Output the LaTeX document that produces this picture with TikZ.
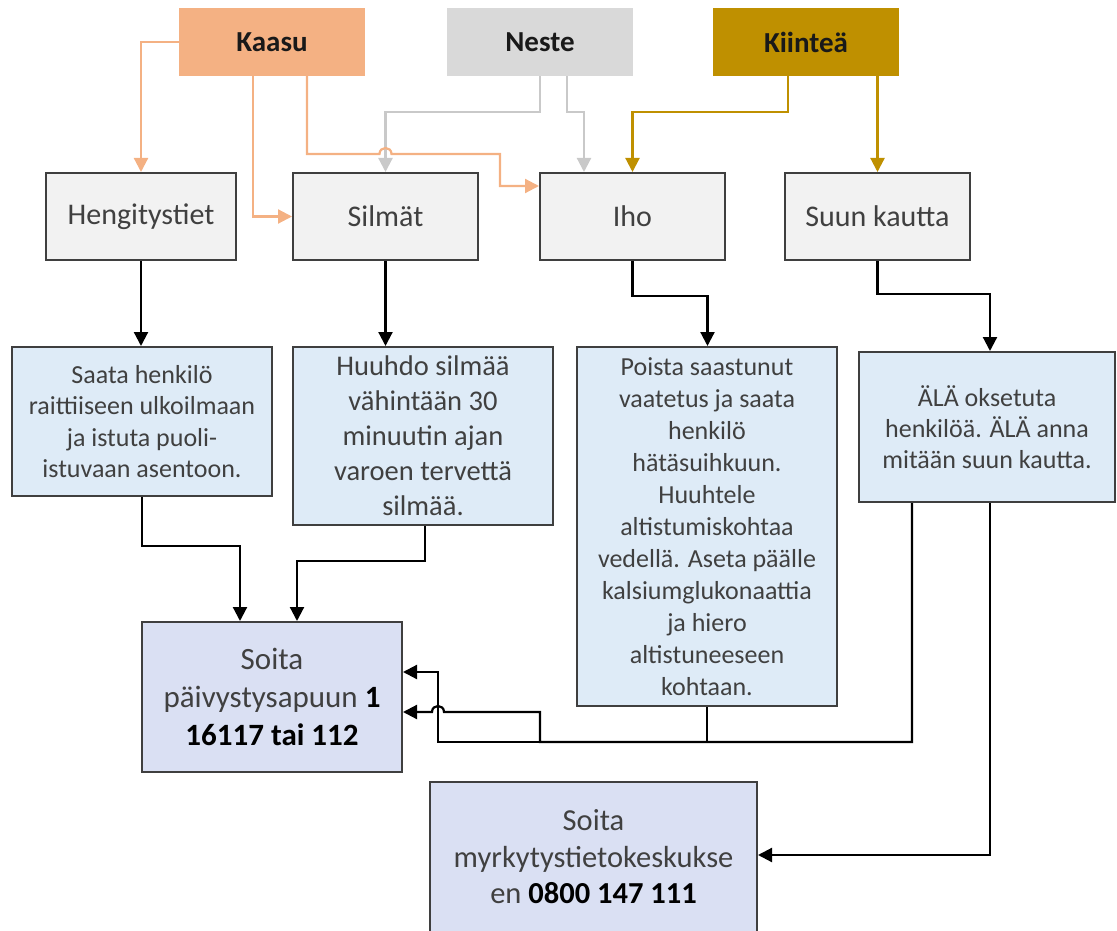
\documentclass[tikz,border=0pt]{standalone}
\usepackage{fontspec}
\setmainfont{Carlito}
\usetikzlibrary{arrows.meta}
\definecolor{kaasuc}{HTML}{F4B183}
\definecolor{nestec}{HTML}{D9D9D9}
\definecolor{nesteline}{HTML}{C9C9C9}
\definecolor{kiinteac}{HTML}{BF9000}
\definecolor{rowtwo}{HTML}{F2F2F2}
\definecolor{rowthree}{HTML}{DEEBF7}
\definecolor{callc}{HTML}{DAE0F3}
\definecolor{edgec}{HTML}{3F3F3F}
\definecolor{txtc}{HTML}{404040}
\tikzset{
  topbox/.style={minimum width=186pt, minimum height=68pt, inner sep=0pt, font=\fontsize{29}{34}\selectfont\bfseries, text=black!90},
  midbox/.style={draw=edgec, line width=2pt, fill=rowtwo, minimum width=185pt, minimum height=87pt, inner sep=0pt, text=txtc, font=\fontsize{30}{36}\selectfont},
  infobox/.style={draw=edgec, line width=2pt, fill=rowthree, inner sep=0pt, text=txtc, align=center},
  callbox/.style={draw=edgec, line width=2pt, fill=callc, inner sep=0pt, text=txtc, align=center},
  conn/.style={line width=2.2pt, -{Triangle[length=14pt,width=14pt]}},
  oarr/.style={conn, draw=kaasuc, color=kaasuc},
  garr/.style={conn, draw=nesteline, color=nesteline},
  karr/.style={conn, draw=kiinteac, color=kiinteac},
  barr/.style={conn, draw=black, color=black},
}
\begin{document}
\begin{tikzpicture}[x=1pt,y=-1pt]
\useasboundingbox (0,0) rectangle (1117,931);
% top row
\node[topbox, fill=kaasuc] (kaasu) at (272,42) {Kaasu};
\node[topbox, fill=nestec] (neste) at (540,42) {Neste};
\node[topbox, fill=kiinteac] (kiintea) at (806,42) {Kiinteä};
% second row
\node[midbox, minimum width=190pt] (hengi) at (141,216.5) {Hengitystiet};
\node[midbox] (silmat) at (385.5,216.5) {Silmät};
\node[midbox] (iho) at (632.5,216.5) {Iho};
\node[midbox] (suun) at (877.5,216.5) {Suun kautta};
% third row
\node[infobox, minimum width=260pt, minimum height=149pt, font=\fontsize{26}{31.5}\selectfont] (b1) at (142,421.5)
  {Saata henkilö\\raittiiseen ulkoilmaan\\ja istuta puoli-\\istuvaan asentoon.};
\node[infobox, minimum width=260pt, minimum height=178pt, font=\fontsize{28.5}{35}\selectfont] (b2) at (423,436)
  {Huuhdo silmää\\vähintään 30\\minuutin ajan\\varoen tervettä\\silmää.};
\node[infobox, minimum width=260pt, minimum height=359pt, font=\fontsize{26}{32}\selectfont] (b3) at (707,526.5)
  {Poista saastunut\\vaatetus ja saata\\henkilö\\hätäsuihkuun.\\Huuhtele\\altistumiskohtaa\\vedellä. Aseta päälle\\kalsiumglukonaattia\\ja hiero\\altistuneeseen\\kohtaan.};
\node[infobox, minimum width=256pt, minimum height=150pt, font=\fontsize{26}{31}\selectfont] (b4) at (987,427)
  {ÄLÄ oksetuta\\henkilöä. ÄLÄ anna\\mitään suun kautta.};
% call boxes
\node[callbox, minimum width=260pt, minimum height=150pt, font=\fontsize{31}{38}\selectfont] (soita) at (272,697)
  {Soita\\päivystysapuun \textbf{\color{black}1}\\\textbf{\color{black}16117 tai 112}};
\node[callbox, minimum width=327pt, minimum height=150pt, font=\fontsize{30.5}{36.5}\selectfont] (myrk) at (593.5,857)
  {Soita\\myrkytystietokeskukse\\en \textbf{\color{black}0800 147 111}};
% coloured connectors
\draw[garr] (neste.south) |- (385.5,112) -- (silmat.north);
\draw[garr] ([xshift=27pt]neste.south) |- (584,112) -- ([xshift=-48.5pt]iho.north);
\draw[karr] ([xshift=-18pt]kiintea.south) |- (632.5,112) -- (iho.north);
\draw[karr] ([xshift=71.5pt]kiintea.south) -- (suun.north);
\draw[oarr] (kaasu.west) -| (hengi.north);
\draw[oarr] ([xshift=-19pt]kaasu.south) |- (silmat.west);
\draw[oarr] ([xshift=35pt]kaasu.south) |- (379.5,154)
  .. controls (379.5,146) and (391.5,146) .. (391.5,154)
  -| (500,186) -- ([yshift=30.5pt]iho.west);
% black connectors
\draw[barr] (hengi.south) -- (hengi.south |- b1.north);
\draw[barr] (silmat.south) -- (silmat.south |- b2.north);
\draw[barr] (iho.south) -- ++(0,35) -| ([xshift=0.5pt]b3.north);
\draw[barr] (suun.south) -- ++(0,33) -| ([xshift=3pt]b4.north);
\draw[barr] (b1.south) -- ++(0,49) -| ([xshift=-32pt]soita.north);
\draw[barr] ([xshift=2pt]b2.south) -- ++(0,35) -| ([xshift=25pt]soita.north);
\draw[barr] (b3.south) |- (438,742) |- ([yshift=25pt]soita.east);
\draw[barr] ([xshift=-75pt]b4.south) |- (540,742) -- (540,712) -- (444,712)
  .. controls (444,704) and (432,704) .. (432,712) -- ([yshift=-15pt]soita.east);
\draw[barr] ([xshift=3pt]b4.south) |- ([yshift=2pt]myrk.east);
\end{tikzpicture}
\end{document}
